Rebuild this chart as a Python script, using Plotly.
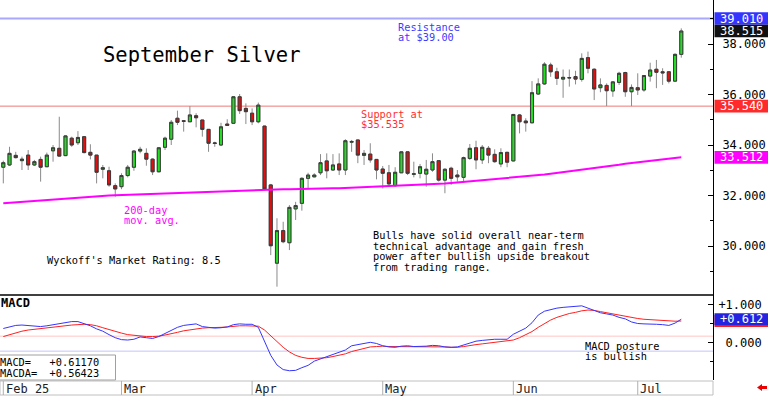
import plotly.graph_objects as go
import pandas as pd

# ---------------- data ----------------
holidays = ["2025-02-17", "2025-04-18", "2025-05-26", "2025-06-19", "2025-07-04"]
dates = [d.strftime("%Y-%m-%d") for d in
         pd.bdate_range("2025-02-03", "2025-07-11", freq="C", holidays=holidays)]

opens = [33.12, 33.21, 33.59, 33.38, 33.60, 33.21, 33.43, 33.14, 33.77, 33.87,
         33.58, 34.27, 34.09, 34.33, 33.71, 33.60, 33.04, 32.98, 32.39, 32.35,
         32.79, 33.12, 33.76, 33.67, 33.44, 32.94, 33.91, 34.23, 35.06, 34.96,
         34.92, 35.16, 34.99, 34.62, 34.06, 34.00, 34.83, 34.86, 35.91, 35.45,
         35.26, 34.92, 34.75, 32.42, 29.32, 30.61, 30.13, 31.47, 31.69, 32.68,
         32.74, 32.90, 33.37, 33.01, 33.25, 33.01, 34.11, 34.20, 33.59, 33.64,
         33.43, 33.05, 32.90, 32.39, 32.90, 33.73, 32.84, 32.88, 32.85, 33.01,
         33.38, 32.61, 33.08, 32.81, 32.72, 33.47, 33.89, 33.41, 33.87, 33.63,
         33.25, 33.71, 33.37, 35.19, 34.95, 34.88, 36.02, 36.42, 37.17, 36.90,
         36.61, 36.67, 36.71, 36.60, 37.46, 37.00, 36.27, 36.36, 36.14, 36.48,
         36.87, 36.11, 36.27, 36.18, 36.73, 37.00, 36.90, 36.90, 36.53, 37.59]
highs = [33.38, 33.93, 33.73, 33.54, 33.80, 33.41, 33.54, 33.70, 34.00, 35.12,
         34.38, 34.33, 34.55, 34.35, 34.03, 33.60, 33.21, 33.14, 32.48, 32.88,
         33.21, 33.80, 33.93, 33.87, 33.47, 33.91, 34.33, 34.99, 35.36, 34.99,
         35.54, 35.26, 34.99, 34.62, 34.13, 34.88, 35.02, 35.94, 36.02, 35.65,
         35.45, 35.68, 34.76, 32.46, 31.10, 30.96, 31.62, 31.75, 32.72, 32.90,
         32.88, 33.64, 33.67, 33.64, 33.67, 34.23, 34.20, 34.20, 33.80, 34.07,
         33.43, 33.17, 33.21, 33.12, 33.73, 33.73, 33.34, 33.25, 33.41, 33.67,
         33.38, 33.08, 33.14, 33.01, 33.54, 34.04, 34.17, 34.00, 33.96, 33.83,
         33.87, 33.73, 35.23, 35.23, 35.06, 36.53, 36.64, 37.28, 37.26, 37.06,
         36.99, 36.99, 36.94, 37.63, 37.70, 37.04, 36.64, 36.44, 36.53, 36.90,
         36.90, 36.40, 36.84, 36.77, 37.26, 37.37, 37.04, 36.90, 37.63, 38.62]
lows = [32.48, 33.17, 33.47, 33.01, 33.01, 33.17, 32.55, 33.14, 33.34, 33.54,
        33.56, 33.93, 34.00, 33.67, 33.43, 32.48, 32.68, 32.35, 31.95, 32.25,
        32.72, 32.98, 33.67, 33.18, 32.81, 32.92, 33.80, 34.00, 34.79, 34.53,
        34.92, 34.70, 34.33, 33.73, 33.93, 33.96, 34.78, 34.86, 35.23, 34.83,
        34.79, 34.86, 32.24, 29.64, 28.39, 30.11, 29.84, 31.03, 31.40, 32.25,
        32.72, 32.81, 32.68, 32.97, 32.81, 32.81, 33.73, 33.28, 33.21, 33.30,
        32.64, 32.28, 32.35, 32.35, 32.90, 32.81, 32.72, 32.68, 32.35, 32.94,
        32.55, 32.09, 32.42, 32.55, 32.51, 33.41, 33.04, 33.25, 33.28, 33.30,
        33.12, 33.12, 33.35, 34.46, 34.53, 34.86, 35.98, 36.38, 36.70, 36.38,
        35.87, 36.31, 36.40, 36.51, 36.84, 35.78, 36.09, 35.54, 35.91, 36.38,
        35.91, 35.54, 35.98, 36.11, 36.51, 36.25, 36.38, 36.44, 36.51, 37.46]
closes = [33.30, 33.67, 33.50, 33.44, 33.21, 33.34, 33.12, 33.60, 33.89, 33.56,
          34.36, 34.00, 34.30, 33.70, 33.60, 32.92, 33.10, 32.42, 32.26, 32.79,
          33.12, 33.76, 33.83, 33.44, 32.94, 33.89, 34.27, 34.90, 34.90, 34.94,
          35.19, 35.08, 34.62, 34.07, 34.08, 34.72, 34.78, 35.91, 35.36, 35.32,
          34.92, 35.58, 32.26, 30.01, 30.61, 30.17, 31.53, 31.60, 32.68, 32.81,
          32.81, 33.30, 32.98, 33.21, 33.01, 34.17, 34.14, 33.60, 33.67, 33.41,
          33.01, 32.88, 32.46, 32.92, 33.73, 32.88, 32.86, 33.14, 33.04, 33.34,
          32.61, 33.04, 32.68, 32.74, 33.50, 33.87, 33.41, 33.91, 33.60, 33.34,
          33.70, 33.32, 35.21, 34.92, 34.88, 36.07, 36.42, 37.20, 36.90, 36.64,
          36.68, 36.66, 36.61, 37.43, 37.04, 36.22, 36.38, 36.15, 36.50, 36.84,
          36.11, 36.28, 36.18, 36.75, 36.97, 36.88, 36.86, 36.53, 37.59, 38.515]

ma200 = [31.69, 31.71, 31.73, 31.75, 31.76, 31.78, 31.80, 31.82, 31.84, 31.85,
         31.87, 31.89, 31.91, 31.93, 31.95, 31.97, 31.98, 32.00, 32.01, 32.02,
         32.03, 32.04, 32.05, 32.06, 32.07, 32.07, 32.08, 32.09, 32.09, 32.10,
         32.11, 32.12, 32.13, 32.14, 32.15, 32.16, 32.17, 32.18, 32.19, 32.20,
         32.21, 32.22, 32.23, 32.24, 32.24, 32.25, 32.25, 32.26, 32.26, 32.27,
         32.27, 32.28, 32.28, 32.29, 32.29, 32.30, 32.31, 32.32, 32.33, 32.34,
         32.35, 32.36, 32.37, 32.38, 32.39, 32.40, 32.41, 32.42, 32.43, 32.45,
         32.46, 32.48, 32.50, 32.52, 32.54, 32.56, 32.58, 32.60, 32.62, 32.64,
         32.66, 32.68, 32.70, 32.72, 32.74, 32.77, 32.80, 32.83, 32.86, 32.89,
         32.92, 32.95, 32.98, 33.01, 33.04, 33.07, 33.10, 33.14, 33.18, 33.22,
         33.26, 33.29, 33.32, 33.35, 33.38, 33.41, 33.43, 33.45, 33.48, 33.512]

macd = [0.37, 0.42, 0.45, 0.46, 0.44, 0.43, 0.42, 0.44, 0.47, 0.50,
        0.52, 0.55, 0.55, 0.50, 0.44, 0.36, 0.30, 0.21, 0.13, 0.08,
        0.07, 0.09, 0.15, 0.13, 0.11, 0.16, 0.24, 0.33, 0.40, 0.45,
        0.48, 0.49, 0.42, 0.39, 0.38, 0.39, 0.41, 0.47, 0.49, 0.48,
        0.48, 0.40, 0.02, -0.33, -0.58, -0.70, -0.73, -0.72, -0.65, -0.59,
        -0.48, -0.42, -0.36, -0.31, -0.24, -0.19, -0.08, -0.05, -0.01, 0.01,
        -0.02, -0.08, -0.11, -0.12, -0.09, -0.08, -0.10, -0.10, -0.09, -0.07,
        -0.08, -0.11, -0.12, -0.11, -0.06, 0.01, 0.04, 0.06, 0.08, 0.09,
        0.09, 0.09, 0.22, 0.30, 0.38, 0.52, 0.72, 0.82, 0.87, 0.90,
        0.92, 0.93, 0.94, 0.96, 0.90, 0.84, 0.78, 0.75, 0.72, 0.66,
        0.62, 0.54, 0.50, 0.49, 0.49, 0.48, 0.47, 0.45, 0.51, 0.6117]
macda = [0.16, 0.21, 0.26, 0.30, 0.33, 0.35, 0.37, 0.39, 0.41, 0.43,
         0.44, 0.46, 0.47, 0.48, 0.47, 0.44, 0.39, 0.34, 0.29, 0.25,
         0.21, 0.19, 0.17, 0.16, 0.16, 0.17, 0.20, 0.23, 0.27, 0.31,
         0.34, 0.36, 0.38, 0.39, 0.39, 0.40, 0.41, 0.43, 0.44, 0.44,
         0.44, 0.43, 0.33, 0.18, 0.02, -0.12, -0.24, -0.33, -0.38, -0.41,
         -0.41, -0.40, -0.39, -0.36, -0.33, -0.29, -0.23, -0.19, -0.14, -0.11,
         -0.10, -0.09, -0.10, -0.10, -0.11, -0.11, -0.11, -0.11, -0.11, -0.11,
         -0.11, -0.11, -0.12, -0.12, -0.10, -0.07, -0.05, -0.03, -0.01, 0.01,
         0.03, 0.04, 0.07, 0.13, 0.20, 0.29, 0.40, 0.50, 0.59, 0.66,
         0.72, 0.76, 0.79, 0.83, 0.85, 0.84, 0.81, 0.78, 0.74, 0.71,
         0.68, 0.65, 0.63, 0.61, 0.60, 0.58, 0.57, 0.56, 0.56, 0.56423]

resistance = 39.01
support = 35.54
macd_upper = 0.17
macd_lower = -0.22
price_ticks = [30, 32, 34, 36, 38]
price_minor = [29, 31, 33, 35, 37, 39]
macd_ticks = [0, 1]
macd_ticklabels = ["\u00a00.000", "+1.000"]
month_labels = ["Feb 25", "Mar", "Apr", "May", "Jun", "Jul"]
month_starts = ["2025-02-03", "2025-03-03", "2025-04-01", "2025-05-01", "2025-06-02", "2025-07-01"]
comment_lines = ["Bulls have solid overall near-term",
                 "technical advantage and gain fresh",
                 "power after bullish upside breakout",
                 "from trading range."]

# ---------------- geometry helpers (pixel -> paper) ----------------
PW, PH = 713.0, 380.0
def px(x):
    return x / PW
def py(y):
    return (PH - y) / PH

MONO = "DejaVu Sans Mono"
GREEN = "#22dd22"
RED = "#dd1111"

fig = go.Figure()

# wicks
fig.add_trace(go.Candlestick(
    x=dates, open=opens, high=highs, low=lows, close=closes,
    increasing=dict(line=dict(color="#8a8a8a", width=1), fillcolor="#8a8a8a"),
    decreasing=dict(line=dict(color="#8a8a8a", width=1), fillcolor="#8a8a8a"),
    whiskerwidth=0, hoverinfo="skip", showlegend=False))
# bodies
body_hi = [max(o, c) for o, c in zip(opens, closes)]
body_lo = [min(o, c) for o, c in zip(opens, closes)]
fig.add_trace(go.Candlestick(
    x=dates, open=opens, high=body_hi, low=body_lo, close=closes,
    increasing=dict(line=dict(color="#3a3a3a", width=1), fillcolor=GREEN),
    decreasing=dict(line=dict(color="#3a3a3a", width=1), fillcolor=RED),
    whiskerwidth=0, hoverinfo="skip", showlegend=False))

fig.add_trace(go.Scatter(x=dates, y=ma200, mode="lines",
                         line=dict(color="#ff00ff", width=2), showlegend=False, hoverinfo="skip"))
fig.add_trace(go.Scatter(x=dates, y=macda, mode="lines", yaxis="y2",
                         line=dict(color="#ff2020", width=1), showlegend=False, hoverinfo="skip"))
fig.add_trace(go.Scatter(x=dates, y=macd, mode="lines", yaxis="y2",
                         line=dict(color="#3535ff", width=1), showlegend=False, hoverinfo="skip"))

split = py(295)
shapes = []
shapes.append(dict(type="line", xref="paper", yref="y", x0=0, x1=1, y0=resistance, y1=resistance,
                   line=dict(color="#a8a8ff", width=2), layer="below"))
shapes.append(dict(type="line", xref="paper", yref="y", x0=0, x1=1, y0=support, y1=support,
                   line=dict(color="#f07878", width=1), layer="below"))
shapes.append(dict(type="line", xref="paper", yref="y2", x0=0, x1=1, y0=macd_upper, y1=macd_upper,
                   line=dict(color="#ffc4c4", width=1), layer="below"))
shapes.append(dict(type="line", xref="paper", yref="y2", x0=0, x1=1, y0=macd_lower, y1=macd_lower,
                   line=dict(color="#c4c4ff", width=1), layer="below"))
shapes.append(dict(type="line", xref="paper", yref="paper", x0=0, x1=1, y0=split, y1=split,
                   line=dict(color="#000000", width=1.5)))
# bottom date strip
shapes.append(dict(type="rect", xref="paper", yref="paper", x0=0, x1=1, y0=py(381), y1=py(395),
                   line=dict(color="#c0c0c0", width=1), fillcolor="white"))
for m in month_starts:
    shapes.append(dict(type="line", xref="x", yref="paper", x0=dates.index(m), x1=dates.index(m),
                       y0=py(381), y1=py(395), line=dict(color="#b0b0b0", width=1)))
# MACD readout box
shapes.append(dict(type="rect", xref="paper", yref="paper", x0=px(-1), x1=px(115.5), y0=py(380), y1=py(355),
                   line=dict(color="#a0a0a0", width=1), fillcolor="white", layer="above"))

# value boxes on the right axis
def value_box(yref, val, half, color):
    shapes.append(dict(type="rect", xref="paper", yref=yref, x0=px(714.5), x1=px(768),
                       y0=val - half, y1=val + half, line=dict(width=0), fillcolor=color, layer="above"))

ph = 6.3 / 25.25
mh = 6.0 / 38.4
value_box("y", resistance, ph, "#3434ff")
value_box("y", closes[-1], ph, "#111111")
value_box("y", support, ph, "#ff2a2a")
value_box("y", ma200[-1], ph, "#ff00ff")
value_box("y2", macda[-1], mh, "#ff2020")
value_box("y2", macd[-1], mh, "#2424e0")

# red arrow
arrow = [(757, 387.5), (762, 384), (762, 386), (767, 386), (767, 389), (762, 389), (762, 391)]
path = "M " + " L ".join(f"{px(a)},{py(b)}" for a, b in arrow) + " Z"
shapes.append(dict(type="path", xref="paper", yref="paper", path=path,
                   fillcolor="#ee0000", line=dict(width=0)))

ann = []
def text(x, y, s, size=10.3, color="#000000", bold=False):
    ann.append(dict(x=px(x), y=py(y), xref="paper", yref="paper", text=("<b>%s</b>" % s) if bold else s,
                    showarrow=False, xanchor="left", yanchor="middle",
                    font=dict(family=MONO, size=size, color=color), borderpad=0))

text(102, 55.5, "September Silver", size=20.5)
text(397, 27.3, "Resistance", color="#3c3cff")
text(397, 37.3, "at $39.00", color="#3c3cff")
text(360, 114.3, "Support at", color="#ff3030")
text(360, 124.3, "$35.535", color="#ff3030")
text(123, 210, "200-day", color="#ff00ff")
text(123, 220, "mov. avg.", color="#ff00ff")
text(46, 260, "Wyckoff's Market Rating: 8.5")
for i, line in enumerate(comment_lines):
    text(372, 235 + i * 10.7, line)
text(0, 302.5, "MACD", size=12, bold=True)
text(584, 346, "MACD posture")
text(584, 356, "is bullish")
text(-1, 361.7, "MACD=\u00a0\u00a0\u00a0%+.5f" % macd[-1])
text(-1, 373.3, "MACDA=\u00a0\u00a0%+.5f" % macda[-1])
for lab, m in zip(month_labels, month_starts):
    xi = 3.3 + dates.index(m) * 6.22
    text(max(xi, 3) + 1.5, 388.5, lab, size=12, color="#222222")

def value_label(yref, val, s):
    ann.append(dict(x=px(719), y=val, xref="paper", yref=yref, text=s, showarrow=False,
                    xanchor="left", yanchor="middle", borderpad=0,
                    font=dict(family=MONO, size=12, color="white")))

value_label("y", resistance, "%.3f" % resistance)
value_label("y", closes[-1], "%.3f" % closes[-1])
value_label("y", support, "%.3f" % support)
value_label("y", ma200[-1], "%.3f" % ma200[-1])
value_label("y2", macd[-1], "%+.3f" % macd[-1])

fig.update_layout(
    width=768, height=396,
    margin=dict(l=0, r=55, t=0, b=16),
    paper_bgcolor="white", plot_bgcolor="white",
    showlegend=False,
    xaxis=dict(type="category", range=[-0.53, 114.1], rangeslider=dict(visible=False),
               showticklabels=False, showgrid=False, zeroline=False, showline=False,
               ticks="", anchor="y2"),
    yaxis=dict(domain=[split, 1], range=[28.06, 39.743], side="right", anchor="x",
               showgrid=False, zeroline=False, showline=True, linecolor="#000000", linewidth=1,
               ticks="inside", ticklen=5, tickcolor="#000000",
               tickvals=price_ticks, ticktext=["%.3f" % v for v in price_ticks],
               tickfont=dict(family=MONO, size=12, color="#000000"), ticklabelstandoff=6,
               minor=dict(tickvals=price_minor, ticks="inside", ticklen=3, tickcolor="#000000")),
    yaxis2=dict(domain=[0, split], range=[-0.971, 1.242], side="right", anchor="x",
                showgrid=False, zeroline=False, showline=True, linecolor="#000000", linewidth=1,
                ticks="inside", ticklen=5, tickcolor="#000000",
                tickvals=macd_ticks, ticktext=macd_ticklabels,
                tickfont=dict(family=MONO, size=12, color="#000000"), ticklabelstandoff=2,
                minor=dict(tickvals=[-0.5, 0.5], ticks="inside", ticklen=3, tickcolor="#000000")),
    shapes=shapes, annotations=ann,
)

fig.write_html("out.html", config={"displayModeBar": False},
               post_script="document.body.style.margin='0px';")
